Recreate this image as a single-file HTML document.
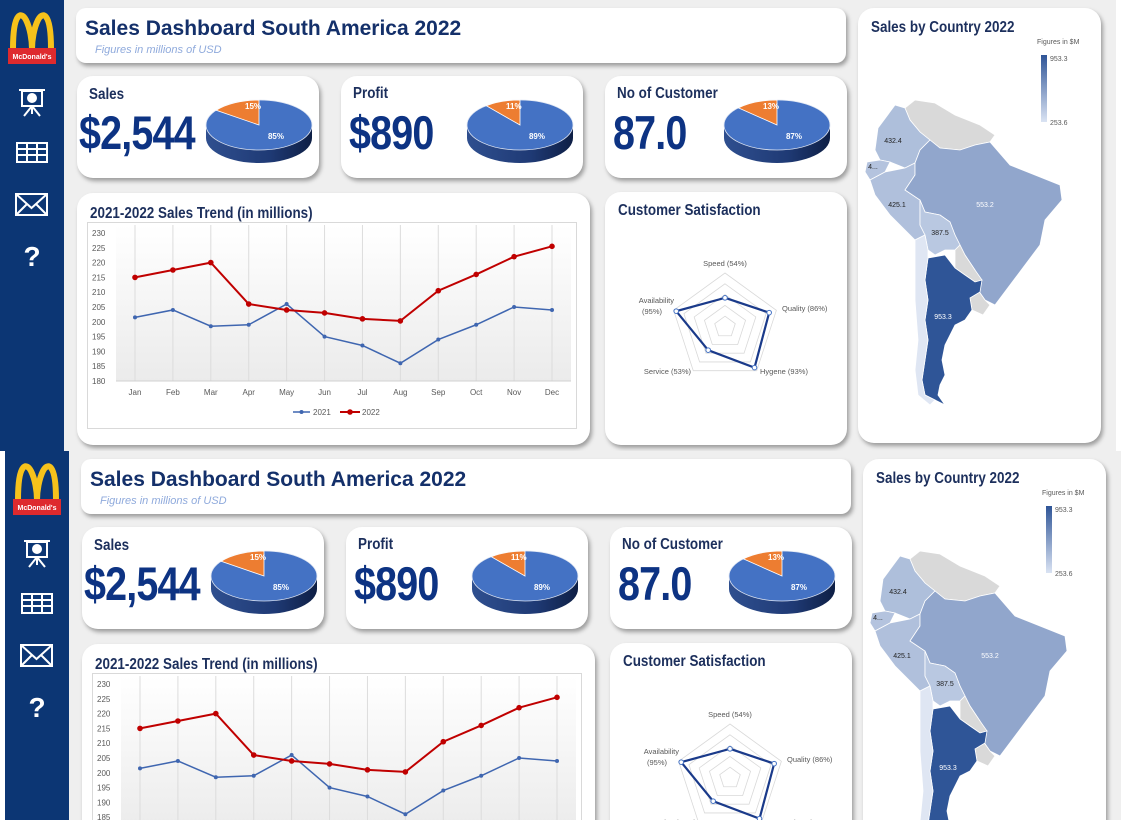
<!DOCTYPE html>
<html><head><meta charset="utf-8">
<style>
html,body{margin:0;padding:0;background:#fff;width:1122px;height:820px;overflow:hidden;font-family:"Liberation Sans",sans-serif}
#wrap{position:relative;width:1122px;height:820px;overflow:hidden}
.dash{position:absolute;width:1116px;height:451px;background:#efefef;overflow:hidden}
.side{position:absolute;left:0;top:0;width:64px;height:451px;background:#0c3674}
.card{position:absolute;background:#fff;border-radius:16px;box-shadow:2px 3px 4px rgba(0,0,0,0.35)}
.ct{position:absolute;font-weight:bold;color:#1c2f5c;font-size:16px;transform:scaleX(0.84);transform-origin:0 0;white-space:nowrap}
.big{position:absolute;font-weight:bold;color:#0d3383;font-size:47px;letter-spacing:-1px;transform:scaleX(0.84);transform-origin:0 0;white-space:nowrap}
svg text{font-family:"Liberation Sans",sans-serif}
</style></head><body>
<div id="wrap">
<div class="dash" id="dash1" style="left:0;top:0">
  <div class="side">
    <svg width="64" height="300">
      <g>
        <path d="M13 49 C13 10 22 12 26 20 C30 28 32 40 32 49 C32 40 34 28 38 20 C42 12 51 10 51 49" fill="none" stroke="#f6c21b" stroke-width="6"/>
        <rect x="8" y="48" width="48" height="16" fill="#de2a2e"/>
        <text x="32" y="59" font-size="7" font-weight="bold" fill="#fff" text-anchor="middle">McDonald's</text>
      </g>
      <g stroke="#fff" fill="none" stroke-width="2">
        <line x1="19" y1="90" x2="45" y2="90"/><rect x="22" y="91" width="20" height="15"/>
        <circle cx="32" cy="98" r="4" fill="#fff"/><line x1="32" y1="106" x2="24" y2="116"/><line x1="32" y1="106" x2="40" y2="116"/><line x1="32" y1="106" x2="32" y2="114"/>
      </g>
      <g stroke="#fff" fill="none" stroke-width="2">
        <rect x="17" y="143" width="30" height="19"/><line x1="17" y1="149" x2="47" y2="149"/><line x1="17" y1="155" x2="47" y2="155"/><line x1="27" y1="143" x2="27" y2="162"/><line x1="37" y1="143" x2="37" y2="162"/>
      </g>
      <g stroke="#fff" fill="none" stroke-width="2">
        <rect x="16" y="194" width="31" height="21"/><polyline points="16,194 31.5,208 47,194"/><line x1="16" y1="215" x2="27" y2="204"/><line x1="47" y1="215" x2="36" y2="204"/>
      </g>
      <text x="32" y="266" font-size="28" font-weight="bold" fill="#fff" text-anchor="middle">?</text>
    </svg>
  </div>
  <div class="card" style="left:76px;top:8px;width:770px;height:55px;border-radius:10px">
    <div style="position:absolute;left:9px;top:9px;font-size:21px;font-weight:bold;color:#14306a">Sales Dashboard South America 2022</div>
    <div style="position:absolute;left:19px;top:36px;font-size:11px;font-style:italic;color:#8faadc">Figures in millions of USD</div>
  </div>
  <div class="card" style="left:77px;top:76px;width:242px;height:102px">
    <div class="ct" style="left:12px;top:10px">Sales</div>
    <div class="big" style="left:2px;top:29px">$2,544</div>
  </div>
  <div class="card" style="left:341px;top:76px;width:242px;height:102px">
    <div class="ct" style="left:12px;top:9px">Profit</div>
    <div class="big" style="left:8px;top:29px">$890</div>
  </div>
  <div class="card" style="left:605px;top:76px;width:242px;height:102px">
    <div class="ct" style="left:12px;top:9px">No of Customer</div>
    <div class="big" style="left:8px;top:29px">87.0</div>
  </div>
  <div class="card" style="left:77px;top:193px;width:513px;height:252px">
    <div class="ct" style="left:13px;top:12px;font-size:16px">2021-2022 Sales Trend (in millions)</div>
    <div style="position:absolute;left:10px;top:29px;width:488px;height:205px;border:1px solid #d9d9d9"></div>
  </div>
  <div class="card" style="left:605px;top:192px;width:242px;height:253px">
    <div class="ct" style="left:13px;top:10px;font-size:16px">Customer Satisfaction</div>
  </div>
  <div class="card" style="left:858px;top:8px;width:243px;height:435px">
    <div class="ct" style="left:13px;top:11px;font-size:16px">Sales by Country 2022</div>
  </div>
  <svg id="ov" width="1116" height="451" style="position:absolute;left:0;top:0"></svg>
</div>
</div>
<script>
// Line chart data
const months=["Jan","Feb","Mar","Apr","May","Jun","Jul","Aug","Sep","Oct","Nov","Dec"];
const sales2021=[201.5,204,198.5,199,206,195,192,186,194,199,205,204];
const sales2022=[215,217.5,220,206,204,203,201,200.3,210.5,216,222,225.5];
const yTicks=[180,185,190,195,200,205,210,215,220,225,230];
// Radar data
const radarLabels=["Speed (54%)","Quality (86%)","Hygene (93%)","Service (53%)","Availability (95%)"];
const radarValues=[54,86,93,53,95];
// KPI pie data (orange share %)
const pieKeys=["sales","profit","customer"];
const pieOrange=[15,11,13];
// Map data
const countryNames=["Argentina","Brazil","Colombia","Peru","Bolivia","Ecuador"];
const countryValues=[953.3,553.2,432.4,425.1,387.5,410];
const legendRange=[253.6,953.3];

const NS="http://www.w3.org/2000/svg";
const ov=document.getElementById('ov');
function mk(tag,attrs,parent,text){const e=document.createElementNS(NS,tag);for(const k in attrs)e.setAttribute(k,attrs[k]);if(text!==undefined)e.textContent=text;(parent||ov).appendChild(e);return e;}

const defs=mk('defs',{});
defs.innerHTML='<linearGradient id="pbg" x1="0" y1="0" x2="0" y2="1"><stop offset="0" stop-color="#fff"/><stop offset="1" stop-color="#ebebeb"/></linearGradient><linearGradient id="side" x1="0" y1="0" x2="1" y2="0"><stop offset="0" stop-color="#2f4f8f"/><stop offset="0.6" stop-color="#1f3a75"/><stop offset="1" stop-color="#0e1f45"/></linearGradient><linearGradient id="leg" x1="0" y1="0" x2="0" y2="1"><stop offset="0" stop-color="#2f5597"/><stop offset="1" stop-color="#dae3f3"/></linearGradient>';

// ---- Line chart ----
const PX0=135,PX1=552,PY0=381,PY1=233,VMIN=180,VMAX=230;
const xs=i=>PX0+i*(PX1-PX0)/(months.length-1);
const ys=v=>PY0-(v-VMIN)*(PY0-PY1)/(VMAX-VMIN);
const pbg=mk('rect',{x:116,y:225,width:455,height:156,fill:'url(#pbg)'});


months.forEach((m,i)=>{
  const g=mk('line',{x1:xs(i),x2:xs(i),y1:225,y2:PY0,stroke:'#dcdcdc','stroke-width':1});
  
  
  const t=mk('text',{x:xs(i),y:395,'font-size':8,fill:'#595959','text-anchor':'middle'},ov,m);
  
  
});
const ax=mk('line',{x1:116,x2:571,y1:PY0,y2:PY0,stroke:'#d0d0d0'});


yTicks.forEach(v=>{
  const t=mk('text',{x:92,y:ys(v)+3,'font-size':8,fill:'#595959'},ov,String(v));
  
  
});
function series(vals,color,r,name){
  const p=mk('polyline',{points:vals.map((v,i)=>xs(i)+','+ys(v)).join(' '),fill:'none',stroke:color,'stroke-width':color=='#c00000'?2:1.5});
  
  
  vals.forEach((v,i)=>{
    const c=mk('circle',{cx:xs(i),cy:ys(v),r:r,fill:color});
    
    
  });
}
series(sales2021,'#3f66b0',2,'series-2021');
series(sales2022,'#c00000',2.8,'series-2022');
const lg=mk('g',{});


mk('line',{x1:293,x2:310,y1:412,y2:412,stroke:'#3f66b0','stroke-width':1.5},lg);mk('circle',{cx:301.5,cy:412,r:2,fill:'#3f66b0'},lg);
const l1=mk('text',{x:313,y:415,'font-size':8,fill:'#595959'},lg,'2021');


mk('line',{x1:340,x2:360,y1:412,y2:412,stroke:'#c00000','stroke-width':2},lg);mk('circle',{cx:350,cy:412,r:2.8,fill:'#c00000'},lg);
const l2=mk('text',{x:362,y:415,'font-size':8,fill:'#595959'},lg,'2022');



// ---- Pies ----
const pieCx=[259,520,777],PCY=125,PRX=53,PRY=25,PD=13;
pieKeys.forEach((k,i)=>{
  const cx=pieCx[i];
  const g=mk('g',{});
  
  
  mk('path',{d:`M${cx-PRX} ${PCY} L${cx-PRX} ${PCY+PD} A${PRX} ${PRY} 0 0 0 ${cx+PRX} ${PCY+PD} L${cx+PRX} ${PCY} Z`,fill:'url(#side)'},g);
  mk('ellipse',{cx:cx,cy:PCY,rx:PRX,ry:PRY,fill:'#4472c4',stroke:'#dfe6f3','stroke-width':0.8},g);
  const a=-Math.PI/2-pieOrange[i]/100*2*Math.PI;
  const ex=cx+PRX*Math.cos(a),ey=PCY+PRY*Math.sin(a);
  const sl=mk('path',{d:`M${cx} ${PCY} L${ex} ${ey} A${PRX} ${PRY} 0 0 1 ${cx} ${PCY-PRY} Z`,fill:'#ed7d31',stroke:'#fff','stroke-width':0.8},g);
  
  
  const t1=mk('text',{x:cx-14,y:PCY-16,'font-size':8,'font-weight':'bold',fill:'#fff'},g,pieOrange[i]+'%');
  
  
  const t2=mk('text',{x:cx+17,y:PCY+14,'font-size':8,'font-weight':'bold',fill:'#fff','text-anchor':'middle'},g,(100-pieOrange[i])+'%');
  
  
});

// ---- Radar ----
const RCX=725,RCY=327,RR=54;
const ang=j=>-Math.PI/2+j*2*Math.PI/radarLabels.length;
[0.2,0.4,0.6,0.8,1].forEach(f=>{
  const p=mk('polygon',{points:radarLabels.map((_,j)=>(RCX+RR*f*Math.cos(ang(j)))+','+(RCY+RR*f*Math.sin(ang(j)))).join(' '),fill:'none',stroke:'#d9d9d9','stroke-width':0.8});
  
  
});
const rp=mk('polygon',{points:radarValues.map((v,j)=>(RCX+RR*v/100*Math.cos(ang(j)))+','+(RCY+RR*v/100*Math.sin(ang(j)))).join(' '),fill:'none',stroke:'#1a3a8a','stroke-width':2.2});


radarValues.forEach((v,j)=>{
  const c=mk('circle',{cx:RCX+RR*v/100*Math.cos(ang(j)),cy:RCY+RR*v/100*Math.sin(ang(j)),r:2.3,fill:'#fff',stroke:'#4472c4','stroke-width':1});
  
  
});
const rlPos=[[725,266,'middle'],[782,311,'start'],[760,374,'start'],[691,374,'end'],[674,303,'end']];
radarLabels.forEach((l,j)=>{
  let lines=[l];
  if(j===4){lines=['Availability','(95%)'];}
  lines.forEach((s,k)=>{
    const t=mk('text',{x:rlPos[j][0]-(j===4&&k===1?12:0),y:rlPos[j][1]+k*11,'font-size':7.5,fill:'#595959','text-anchor':rlPos[j][2]},ov,s);
    
    
  });
});

// ---- Map ----
const lo=legendRange[0],hi=legendRange[1];
function shade(v){const f=Math.max(0,Math.min(1,(v-lo)/(hi-lo)));const a=[218,227,243],b=[47,85,151];return 'rgb('+a.map((c,i)=>Math.round(c+(b[i]-c)*f)).join(',')+')';}
const shapes={
 Venezuela:"905,108 915,100 935,103 955,115 980,125 995,135 990,142 975,145 960,150 940,148 930,140 920,132 910,120",
 Colombia:"878,128 895,105 905,108 910,120 920,132 930,140 920,150 915,163 905,168 890,162 880,160 875,150",
 Ecuador:"867,162 880,160 890,162 885,172 870,180 865,172",
 Peru:"870,180 885,172 905,168 915,163 915,175 905,190 920,200 920,225 925,235 915,240 905,230 890,215 875,195",
 Brazil:"905,190 915,175 915,163 920,150 930,140 940,148 960,150 975,145 990,142 1010,165 1035,175 1060,185 1062,200 1045,220 1040,245 1025,265 1010,285 995,305 985,300 978,290 975,270 965,255 960,245 955,235 950,222 940,215 925,212 920,200",
 Bolivia:"920,200 925,212 940,215 950,222 955,235 960,245 955,250 945,250 935,255 928,250 925,235 920,225",
 Paraguay:"955,250 960,245 965,255 975,270 982,280 975,282 965,275 955,268",
 Uruguay:"978,290 985,300 990,305 983,315 972,310 970,298",
 Argentina:"928,258 945,255 955,268 965,275 975,282 982,280 980,292 970,298 972,310 965,320 955,325 950,335 945,345 942,360 945,375 940,385 938,395 945,405 935,400 925,395 922,380 925,360 928,340 925,320 928,300 925,280",
 Chile:"915,240 925,235 928,250 928,258 925,280 928,300 925,320 928,340 925,360 922,380 925,395 935,400 930,405 918,395 915,370 918,340 915,300 915,270"
};
const labelPos={Argentina:[943,319],Brazil:[985,207],Colombia:[893,143],Peru:[897,207],Bolivia:[940,235],Ecuador:[873,169]};
for(const n in shapes){
  const idx=countryNames.indexOf(n);
  const fill=idx>=0?shade(countryValues[idx]):(n==='Chile'?'#dfe6f3':'#d9d9d9');
  const p=mk('polygon',{points:shapes[n],fill:fill,stroke:'#fff','stroke-width':0.8});
  
  
}
countryNames.forEach((n,i)=>{
  const lab=n==='Ecuador'?'4...':countryValues[i].toFixed(1);
  const t=mk('text',{x:labelPos[n][0],y:labelPos[n][1],'font-size':7,fill:countryValues[i]>500?'#fff':'#222','text-anchor':'middle'},ov,lab);
  
  
});
const lb=mk('rect',{x:1041,y:55,width:6,height:67,fill:'url(#leg)'});


[['Figures in $M',1037,44],[hi.toFixed(1),1050,61],[lo.toFixed(1),1050,125]].forEach(a=>{
  const t=mk('text',{x:a[1],y:a[2],'font-size':7,fill:'#595959'},ov,a[0]);
  
  
});

// second (scrolled) copy of the dashboard
const d1=document.getElementById('dash1');
const d2=d1.cloneNode(true);
d2.id='dash2';
d2.style.left='5px';d2.style.top='451px';d2.style.height='369px';

document.getElementById('wrap').appendChild(d2);
</script>
</body></html>
